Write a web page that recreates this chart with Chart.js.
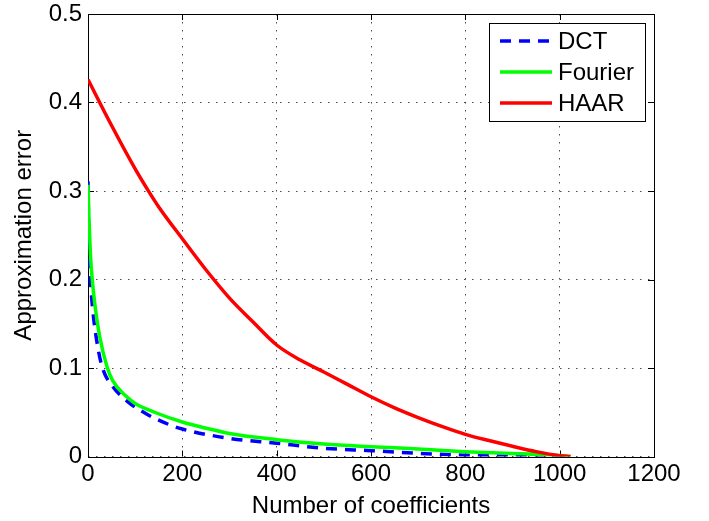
<!DOCTYPE html>
<html><head><meta charset="utf-8">
<script src="https://cdn.jsdelivr.net/npm/chart.js@4.4.1/dist/chart.umd.min.js"></script>
<style>html,body{margin:0;padding:0;background:#fff}#wrap{width:709px;height:521px}</style>
</head><body><div id="wrap"><canvas id="c" width="709" height="521"></canvas></div>
<script>
const seriesNames = ['DCT', 'Fourier', 'HAAR'];
const seriesColors = ['#0000ff', '#00ff00', '#ff0000'];

const dctCoeffs = [0, 1, 3, 5, 10, 22, 32, 54, 84, 124, 177, 200, 300, 400, 500, 600, 700, 800, 870, 900, 1023];
const dctError  = [0.311, 0.27, 0.22, 0.2, 0.166, 0.12, 0.098, 0.078, 0.062, 0.048, 0.035, 0.031, 0.0205, 0.015, 0.0093, 0.0066, 0.0036, 0.0015, 0.0006, 0.0004, 0];

const fourierCoeffs = [0, 2, 5, 9, 15, 25, 40, 52, 81, 100, 141, 200, 250, 300, 400, 500, 600, 700, 800, 900, 1000, 1023];
const fourierError  = [0.307, 0.27, 0.23, 0.2, 0.17, 0.135, 0.102, 0.086, 0.068, 0.06, 0.05, 0.039, 0.032, 0.026, 0.019, 0.014, 0.011, 0.0085, 0.0055, 0.0035, 0.001, 0];

const haarCoeffs = [0, 50, 100, 127, 150, 200, 250, 300, 350, 400, 450, 500, 550, 600, 650, 700, 750, 800, 850, 900, 950, 1000, 1023];
const haarError  = [0.426, 0.374, 0.325, 0.301, 0.282, 0.246, 0.211, 0.179, 0.152, 0.126, 0.109, 0.0955, 0.0815, 0.0675, 0.055, 0.044, 0.034, 0.025, 0.018, 0.0115, 0.0055, 0.001, 0];

const xTicks = [0, 200, 400, 600, 800, 1000, 1200];
const yTicks = [0, 0.1, 0.2, 0.3, 0.4, 0.5];
const xTitle = 'Number of coefficients';
const yTitle = 'Approximation error';

const FONT = 'Liberation Sans, Arial, Helvetica, sans-serif';
const toPts = (xs, ys) => xs.map((x, i) => ({x: x, y: ys[i]}));

const frame = {
  id: 'frame',
  beforeDatasetsDraw(chart) {
    const ctx = chart.ctx, a = chart.chartArea;
    const xs = chart.scales.x, ys = chart.scales.y;
    ctx.save();
    ctx.strokeStyle = '#000';
    ctx.lineWidth = 1;
    ctx.beginPath();
    const tl = 6;
    xTicks.forEach(v => {
      const p = Math.round(xs.getPixelForValue(v)) + 0.5;
      ctx.moveTo(p, a.bottom); ctx.lineTo(p, a.bottom - tl);
      ctx.moveTo(p, a.top); ctx.lineTo(p, a.top + tl);
    });
    yTicks.forEach(v => {
      const p = Math.round(ys.getPixelForValue(v)) + 0.5;
      ctx.moveTo(a.left, p); ctx.lineTo(a.left + tl, p);
      ctx.moveTo(a.right, p); ctx.lineTo(a.right - tl, p);
    });
    ctx.stroke();
    ctx.strokeRect(Math.round(a.left) + 0.5, Math.round(a.top) + 0.5, Math.round(a.right - a.left), Math.round(a.bottom - a.top));
    ctx.restore();
  }
};

const legendBox = {
  id: 'legendBox',
  afterDraw(chart) {
    const ctx = chart.ctx;
    const bx = 489, by = 23, bw = 156, bh = 98;
    ctx.save();
    ctx.fillStyle = '#fff';
    ctx.fillRect(bx, by, bw, bh);
    ctx.strokeStyle = '#000';
    ctx.lineWidth = 1;
    ctx.strokeRect(bx + 0.5, by + 0.5, bw, bh);
    const rows = [41, 72, 103];
    chart.data.datasets.forEach((ds, i) => {
      const y = rows[i];
      ctx.strokeStyle = ds.borderColor;
      ctx.lineWidth = ds.borderWidth;
      ctx.setLineDash(ds.borderDash || []);
      ctx.beginPath();
      ctx.moveTo(500, y); ctx.lineTo(552, y);
      ctx.stroke();
      ctx.setLineDash([]);
      ctx.fillStyle = '#000';
      ctx.font = '24px ' + FONT;
      ctx.textBaseline = 'middle';
      ctx.textAlign = 'left';
      ctx.fillText(ds.label, 558, y + 1);
    });
    ctx.restore();
  }
};

const noPad = s => { s.paddingTop = 0; s.paddingBottom = 0; s.paddingLeft = 0; s.paddingRight = 0; };

new Chart(document.getElementById('c'), {
  type: 'line',
  data: {
    datasets: [
      {label: seriesNames[0], data: toPts(dctCoeffs, dctError), borderColor: seriesColors[0], borderWidth: 3.5, borderDash: [11, 8], order: 3},
      {label: seriesNames[1], data: toPts(fourierCoeffs, fourierError), borderColor: seriesColors[1], borderWidth: 3.5, order: 2},
      {label: seriesNames[2], data: toPts(haarCoeffs, haarError), borderColor: seriesColors[2], borderWidth: 3.5, order: 1}
    ]
  },
  options: {
    responsive: false,
    animation: false,
    devicePixelRatio: 1,
    parsing: false,
    elements: {point: {radius: 0}, line: {cubicInterpolationMode: 'monotone', fill: false}},
    layout: {padding: {left: 0, right: 55, top: 14, bottom: 0}},
    plugins: {legend: {display: false}, tooltip: {enabled: false}},
    scales: {
      x: {
        type: 'linear', min: 0, max: 1200,
        afterBuildTicks: s => { s.ticks = xTicks.map(v => ({value: v})); },
        afterFit: s => { s.height = 64.5; noPad(s); },
        ticks: {color: '#000', font: {family: FONT, size: 24, lineHeight: 1}, padding: 6, maxRotation: 0, autoSkip: false, callback: v => String(v)},
        grid: {drawTicks: false, color: 'rgba(0,0,0,0.7)', lineWidth: 1},
        border: {display: false, dash: [1.5, 6.5]},
        title: {display: true, text: xTitle, color: '#000', font: {family: FONT, size: 24}, padding: {top: 0, bottom: 0}}
      },
      y: {
        type: 'linear', min: 0, max: 0.5,
        afterBuildTicks: s => { s.ticks = yTicks.map(v => ({value: v})); },
        afterFit: s => { s.width = 88; noPad(s); },
        ticks: {color: '#000', font: {family: FONT, size: 24, lineHeight: 1}, padding: 6, callback: v => String(Math.round(v * 10) / 10)},
        grid: {drawTicks: false, color: 'rgba(0,0,0,0.7)', lineWidth: 1},
        border: {display: false, dash: [1.5, 6.5]},
        title: {display: true, text: yTitle, color: '#000', font: {family: FONT, size: 24}, padding: {top: 10, bottom: 0}}
      }
    }
  },
  plugins: [frame, legendBox]
});
</script></body></html>
